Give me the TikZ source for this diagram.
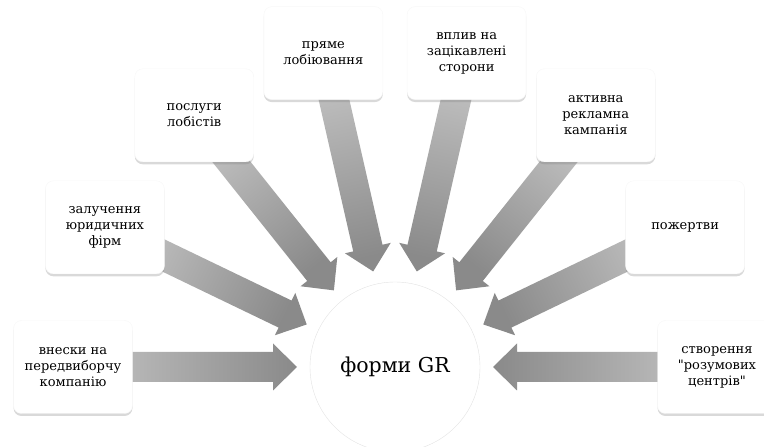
\documentclass[tikz,border=0pt]{standalone}
\usepackage{fontspec}
\setmainfont{DejaVu Serif}
\usetikzlibrary{calc,shadows,backgrounds}

\begin{document}
\begin{tikzpicture}[x=1pt,y=1pt,
  box/.style={rectangle, rounded corners=8pt, fill=white, draw=gray!6,
    minimum width=119pt, minimum height=93pt, align=center,
    font=\fontsize{13}{16}\selectfont,
    drop shadow={shadow xshift=0pt, shadow yshift=-2.5pt, opacity=0.3, fill=gray}},
  hub/.style={circle, fill=white, draw=gray!22, minimum size=170pt,
    font=\fontsize{20.5}{24}\selectfont},
  blockarrow/.style={top color=gray!50, bottom color=gray!92}
]
\useasboundingbox (0,0) rectangle (764,447);
\clip (0,0) rectangle (764,447);

% centre circle
\node[hub] (ctr) at (395,80) {форми GR};

% eight boxes on a half circle, 180/7 apart
\foreach \txt [count=\i] in {{внески на\\передвиборчу\\компанію},
  {залучення\\юридичних\\фірм}, {послуги\\лобістів}, {пряме\\лобіювання},
  {вплив на\\зацікавлені\\сторони}, {активна\\рекламна\\кампанія},
  {пожертви}, {створення\\\textquotedbl розумових\\центрів\textquotedbl}} {
  \pgfmathsetmacro\ang{180-(\i-1)*180/7}
  \node[box] (b\i) at ($(ctr)+(\ang:322pt)$) {\txt};
}

% block arrows, under the boxes
\begin{scope}[on background layer]
\foreach \i in {1,...,8} {
  \pgfmathsetmacro\sang{90-(\i-1)*180/7}
  \coordinate (h) at ($(ctr)!122pt!(b\i)$);
  \coordinate (s) at ($(ctr)!300pt!(b\i)$);
  \shade[blockarrow, shading angle=\sang]
    ($(s)!15pt!90:(b\i)$) -- ($(h)!15pt!90:(b\i)$) -- ($(h)!23.5pt!90:(b\i)$)
    -- ($(ctr)!98pt!(b\i)$)
    -- ($(h)!23.5pt!-90:(b\i)$) -- ($(h)!15pt!-90:(b\i)$) -- ($(s)!15pt!-90:(b\i)$) -- cycle;
}
\end{scope}

\end{tikzpicture}
\end{document}
